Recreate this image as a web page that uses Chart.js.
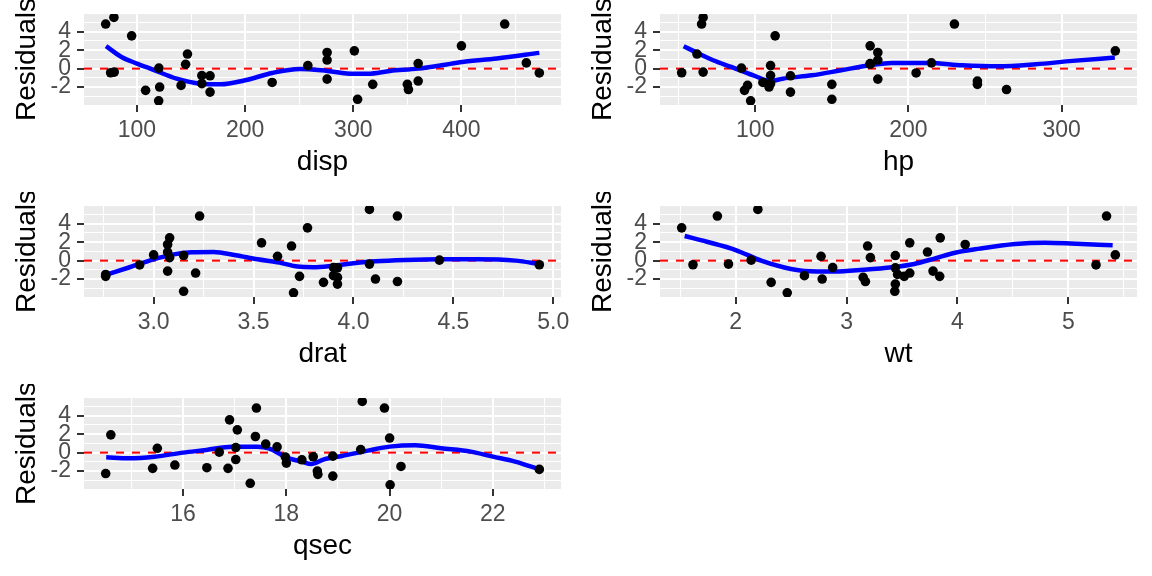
<!DOCTYPE html>
<html>
<head>
<meta charset="utf-8">
<script src="https://cdn.jsdelivr.net/npm/chart.js@4.4.1/dist/chart.umd.min.js"></script>
<style>
  html, body { margin: 0; padding: 0; background: #ffffff; }
  #wrap { position: relative; width: 1152px; height: 576px; }
  .cell { position: absolute; width: 576px; height: 192px; }
</style>
</head>
<body>
<div id="wrap">
  <div class="cell" style="left:0;top:0"><canvas id="c-disp"></canvas></div>
  <div class="cell" style="left:576px;top:0"><canvas id="c-hp"></canvas></div>
  <div class="cell" style="left:0;top:192px"><canvas id="c-drat"></canvas></div>
  <div class="cell" style="left:576px;top:192px"><canvas id="c-wt"></canvas></div>
  <div class="cell" style="left:0;top:384px"><canvas id="c-qsec"></canvas></div>
</div>
<script>
// mtcars predictors (same car order in every array)
const disp = [160, 160, 108, 258, 360, 225, 360, 146.7, 140.8, 167.6, 167.6, 275.8, 275.8, 275.8, 472, 460,
  440, 78.7, 75.7, 71.1, 120.1, 318, 304, 350, 400, 79, 120.3, 95.1, 351, 145, 301, 121];
const hp = [110, 110, 93, 110, 175, 105, 245, 62, 95, 123, 123, 180, 180, 180, 205, 215,
  230, 66, 52, 65, 97, 150, 150, 245, 175, 66, 91, 113, 264, 175, 335, 109];
const drat = [3.90, 3.90, 3.85, 3.08, 3.15, 2.76, 3.21, 3.69, 3.92, 3.92, 3.92, 3.07, 3.07, 3.07, 2.93, 3.00,
  3.23, 4.08, 4.93, 4.22, 3.70, 2.76, 3.15, 3.73, 3.08, 4.08, 4.43, 3.77, 4.22, 3.62, 3.54, 4.11];
const wt = [2.620, 2.875, 2.320, 3.215, 3.440, 3.460, 3.570, 3.190, 3.150, 3.440, 3.440, 4.070, 3.730, 3.780, 5.250, 5.424,
  5.345, 2.200, 1.615, 1.835, 2.465, 3.520, 3.435, 3.840, 3.845, 1.935, 2.140, 1.513, 3.170, 2.770, 3.570, 2.780];
const qsec = [16.46, 17.02, 18.61, 19.44, 17.02, 20.22, 15.84, 20.00, 22.90, 18.30, 18.90, 17.40, 17.60, 18.00, 17.98, 17.82,
  17.42, 19.47, 18.52, 19.90, 20.01, 16.87, 17.30, 15.41, 17.05, 18.90, 16.70, 16.90, 14.50, 15.50, 14.60, 18.60];

// residuals
const residuals = [-1.64, -0.75, -2.36, 0.33, 0.55, -1.5, -1.35, 1.58, -1.82, -0.78, -2.55, 1.75, 0.93, -1.14, -0.47, 0.62,
  4.84, 5.56, -0.45, 4.84, -3.5, -1.71, -3.33, -1.71, 2.47, -0.38, 0.05, 3.56, -2.27, 0.47, 1.93, -2.0];

// loess smooth lines
const dispSmoothX = [71.4, 85.7, 100, 114.6, 136.7, 158.8, 177.6, 200, 225, 250.7, 276, 300, 313.6, 334, 360, 381.6, 400.7, 432.7, 472];
const dispSmoothY = [2.44, 1.27, 0.55, -0.1, -1.09, -1.64, -1.71, -1.27, -0.47, -0.04, -0.25, -0.55, -0.55, -0.25, 0, 0.36, 0.73, 1.09, 1.71];
const hpSmoothX = [53.3, 62.9, 72.5, 84.4, 98.8, 110, 117.9, 137, 156, 175, 189, 213.6, 235, 259, 283, 307, 334.7];
const hpSmoothY = [2.44, 1.64, 0.91, 0.18, -0.73, -1.35, -1.09, -0.73, -0.18, 0.36, 0.62, 0.62, 0.36, 0.25, 0.47, 0.84, 1.2];
const dratSmoothX = [2.76, 2.88, 3.0, 3.10, 3.19, 3.30, 3.41, 3.52, 3.63, 3.72, 3.80, 3.89, 4.0, 4.11, 4.26, 4.44, 4.62, 4.81, 4.93];
const dratSmoothY = [-1.55, -0.72, 0.14, 0.68, 0.9, 0.94, 0.58, 0.14, -0.22, -0.65, -0.72, -0.58, -0.29, -0.07, 0.07, 0.14, 0.14, 0, -0.36];
const wtSmoothX = [1.54, 1.74, 2.0, 2.23, 2.43, 2.62, 2.89, 3.15, 3.41, 3.61, 3.80, 3.98, 4.2, 4.52, 4.79, 5.02, 5.40];
const wtSmoothY = [2.67, 2.05, 1.15, 0, -0.72, -1.12, -1.19, -1.0, -0.72, -0.36, 0.25, 0.86, 1.3, 1.8, 1.95, 1.87, 1.66];
const qsecSmoothX = [14.51, 14.95, 15.45, 16.0, 16.45, 16.95, 17.44, 17.66, 18.0, 18.30, 18.48, 18.73, 19.08, 19.58, 20.0, 20.5, 21.0, 21.57, 22.0, 22.43, 22.9];
const qsecSmoothY = [-0.51, -0.62, -0.44, 0, 0.29, 0.65, 0.65, 0.47, -0.51, -0.98, -1.24, -0.73, -0.36, 0.22, 0.65, 0.8, 0.47, 0.11, -0.44, -0.98, -1.82];

// y axis limits as shown on the panels
const yMin = -3.95;
const yMax = 5.93;

const FONT = "'Liberation Sans', Arial, sans-serif";

function isMajor(v, major) {
  const q = v / major;
  return Math.abs(q - Math.round(q)) < 1e-6;
}

function toPoints(xs, ys) {
  return xs.map((x, i) => ({ x: x, y: ys[i] }));
}

// grey panel background like ggplot
const panelBg = {
  id: "panelBg",
  beforeDraw(chart) {
    const { ctx, chartArea: a } = chart;
    ctx.save();
    ctx.fillStyle = "#EBEBEB";
    ctx.fillRect(a.left, a.top, a.right - a.left, a.bottom - a.top);
    ctx.restore();
  }
};

function gridFor(major) {
  return {
    color: "#FFFFFF",
    lineWidth: c => (c.tick && isMajor(c.tick.value, major)) ? 2 : 1,
    drawTicks: true,
    tickLength: 7,
    tickWidth: 2,
    tickColor: c => (c.tick && isMajor(c.tick.value, major)) ? "#333333" : "rgba(0,0,0,0)"
  };
}

function makePanel(id, name, xs, smoothX, smoothY, step, major, digits) {
  const lo = Math.min(...xs), hi = Math.max(...xs);
  const pad = (hi - lo) * 0.05;
  const xMin = lo - pad, xMax = hi + pad;

  // first dataset is drawn on top: points, then smooth, then zero line
  new Chart(document.getElementById(id), {
    type: "scatter",
    data: {
      datasets: [
        {
          data: toPoints(xs, residuals),
          backgroundColor: "#000000",
          borderWidth: 0,
          pointRadius: 4.8
        },
        {
          type: "line",
          data: toPoints(smoothX, smoothY),
          borderColor: "#0000FF",
          borderWidth: 4.5,
          cubicInterpolationMode: "monotone",
          pointRadius: 0
        },
        {
          type: "line",
          data: [{ x: xMin, y: 0 }, { x: xMax, y: 0 }],
          borderColor: "#FF0000",
          borderWidth: 2,
          borderDash: [8, 8],
          pointRadius: 0
        }
      ]
    },
    options: {
      responsive: true,
      maintainAspectRatio: false,
      animation: false,
      layout: { padding: { top: 14, right: 15, bottom: 0, left: 0 } },
      plugins: { legend: { display: false }, tooltip: { enabled: false } },
      scales: {
        x: {
          type: "linear",
          min: xMin,
          max: xMax,
          border: { display: false },
          grid: gridFor(major),
          ticks: {
            stepSize: step,
            includeBounds: false,
            autoSkip: false,
            maxRotation: 0,
            padding: 5,
            color: "#4D4D4D",
            font: { family: FONT, size: 23 },
            callback: v => isMajor(v, major) ? Number(v).toFixed(digits) : ""
          },
          title: {
            display: true,
            text: name,
            color: "#000000",
            font: { family: FONT, size: 28, lineHeight: 1.2 },
            padding: { top: 0, bottom: 13 }
          },
          afterFit(scale) {
            scale.height = 87;
            scale.paddingLeft = 0;
            scale.paddingRight = 0;
          }
        },
        y: {
          type: "linear",
          min: yMin,
          max: yMax,
          border: { display: false },
          grid: gridFor(2),
          ticks: {
            stepSize: 1,
            includeBounds: false,
            autoSkip: false,
            padding: 6,
            color: "#4D4D4D",
            font: { family: FONT, size: 23 },
            callback: v => isMajor(v, 2) ? String(Math.round(v)) : ""
          },
          title: {
            display: true,
            text: "Residuals",
            color: "#000000",
            font: { family: FONT, size: 28, lineHeight: 1.2 },
            padding: { top: 10, bottom: 0 }
          },
          afterFit(scale) {
            scale.width = 84;
            scale.paddingTop = 0;
            scale.paddingBottom = 0;
          }
        }
      }
    },
    plugins: [panelBg]
  });
}

makePanel("c-disp", "disp", disp, dispSmoothX, dispSmoothY, 50, 100, 0);
makePanel("c-hp", "hp", hp, hpSmoothX, hpSmoothY, 50, 100, 0);
makePanel("c-drat", "drat", drat, dratSmoothX, dratSmoothY, 0.25, 0.5, 1);
makePanel("c-wt", "wt", wt, wtSmoothX, wtSmoothY, 0.5, 1, 0);
makePanel("c-qsec", "qsec", qsec, qsecSmoothX, qsecSmoothY, 1, 2, 0);
</script>
</body>
</html>
